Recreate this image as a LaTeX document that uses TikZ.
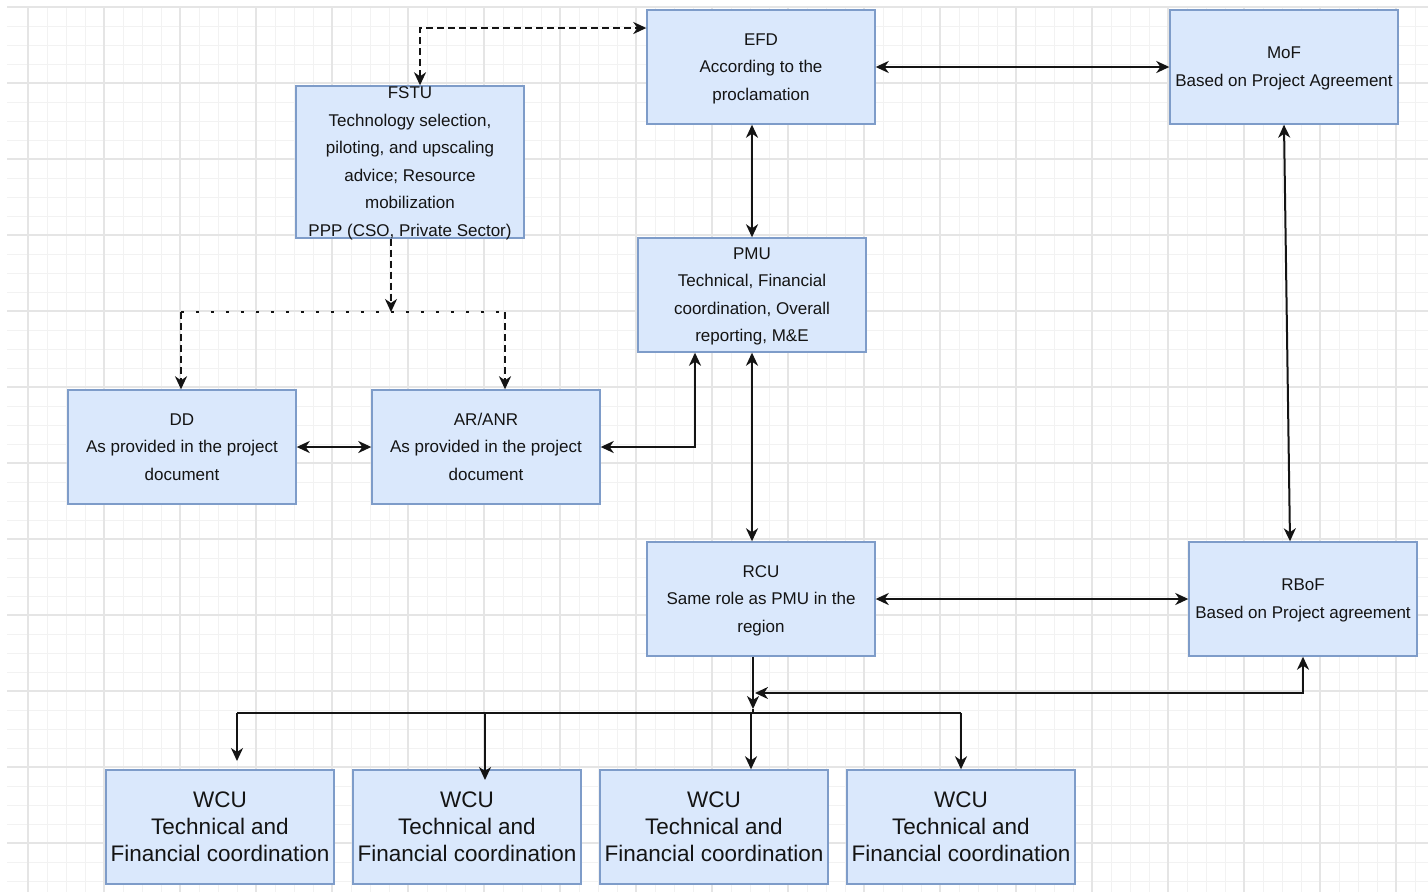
\documentclass[tikz,border=0pt]{standalone}
\usepackage{fontspec}
\setmainfont{Liberation Sans}
\usetikzlibrary{arrows.meta,calc}
\definecolor{boxfill}{HTML}{DAE8FC}
\definecolor{boxline}{HTML}{7E9CC9}
\definecolor{gridminor}{HTML}{F2F2F2}
\definecolor{gridmajor}{HTML}{E5E5E5}
\definecolor{ink}{HTML}{141414}
\newcommand\stk[1]{\begin{tabular}{@{}c@{}}#1\end{tabular}}
\newcommand\tstk[1]{\raisebox{0pt}[\dimexpr\height-9pt\relax][\dimexpr\depth-9pt\relax]{\begin{tabular}{@{}c@{}}#1\end{tabular}}}
\newcommand\wstk[1]{\raisebox{-2.5pt}[\height][\depth]{\begin{tabular}{@{}c@{}}#1\end{tabular}}}
\tikzset{
  box/.style={draw=boxline, fill=boxfill, line width=1.4pt, minimum width=228pt,
    minimum height=114pt, align=center, inner sep=0pt, text=ink,
    font=\fontsize{17}{27.5}\selectfont},
  wcubox/.style={box, font=\fontsize{22.5}{27}\selectfont},
  tip/.tip={Stealth[length=13pt,width=12pt,inset=4pt]},
  conn/.style={draw=ink, line width=2pt, arrows={tip-tip}},
  conn1/.style={draw=ink, line width=2pt, arrows={-tip}},
  plain/.style={draw=ink, line width=2pt},
  dsh/.style={draw=ink, line width=2pt, dash pattern=on 7pt off 4pt},
  dots/.style={draw=ink, line width=2.8pt, dash pattern=on 3pt off 12pt},
}
\begin{document}
\begin{tikzpicture}[x=1pt,y=-1pt]
\useasboundingbox (0,0) rectangle (1428,892);
\fill[white] (0,0) rectangle (1428,892);
% grid
\foreach \x in {28,47,...,1428} \draw[gridminor, line width=1pt] (\x,7) -- (\x,892);
\foreach \y in {7,26,...,892} \draw[gridminor, line width=1pt] (7,\y) -- (1428,\y);
\foreach \x in {28,104,...,1428} \draw[gridmajor, line width=1.1pt] (\x,7) -- (\x,892);
\foreach \y in {7,83,...,892} \draw[gridmajor, line width=1.1pt] (7,\y) -- (1428,\y);

% nodes
\node[box] (efd) at (761,67) {\stk{EFD\\According to the\\proclamation}};
\node[box] (mof) at (1284,67) {\stk{MoF\\Based on Project Agreement}};
\node[box, minimum height=152pt] (fstu) at (410,162) {\tstk{FSTU\\Technology selection,\\piloting, and upscaling\\advice; Resource\\mobilization\\PPP (CSO, Private Sector)}};
\node[box] (pmu) at (752,295) {\stk{PMU\\Technical, Financial\\coordination, Overall\\reporting, M\&E}};
\node[box] (dd) at (182,447) {\stk{DD\\As provided in the project\\document}};
\node[box] (ar) at (486,447) {\stk{AR/ANR\\As provided in the project\\document}};
\node[box] (rcu) at (761,599) {\stk{RCU\\Same role as PMU in the\\region}};
\node[box] (rbof) at (1303,599) {\stk{RBoF\\Based on Project agreement}};
\node[wcubox] (w1) at (220,827) {\wstk{WCU\\Technical and\\Financial coordination}};
\node[wcubox] (w2) at (467,827) {\wstk{WCU\\Technical and\\Financial coordination}};
\node[wcubox] (w3) at (714,827) {\wstk{WCU\\Technical and\\Financial coordination}};
\node[wcubox] (w4) at (961,827) {\wstk{WCU\\Technical and\\Financial coordination}};

% coordinates
\coordinate (split) at (391,312);
\coordinate (sl) at (181,312);
\coordinate (sr) at (505,312);
\coordinate (jn) at (753,709);
\coordinate (jl) at (755,693);
\coordinate (bl) at (237,713);
\coordinate (b2) at (485,713);
\coordinate (b3) at (751,713);
\coordinate (br) at (961,713);

% connectors
\draw[dsh, arrows={tip-tip}] (420,0 |- fstu.north) |- (efd.west |- 0,28);
\draw[conn] (efd.east) -- (mof.west);
\draw[conn] (752,0 |- efd.south) -- (752,0 |- pmu.north);
\draw[conn] (1284,0 |- mof.south) -- (1290,0 |- rbof.north);
\draw[dsh, arrows={-tip}] (391,0 |- fstu.south) -- (split);
\draw[dots] (sl) -- (sr);
\draw[dsh, arrows={-tip}] (sl) -- (181,0 |- dd.north);
\draw[dsh, arrows={-tip}] (sr) -- (505,0 |- ar.north);
\draw[conn] (dd.east) -- (ar.west);
\draw[conn] (ar.east) -| (695,0 |- pmu.south);
\draw[conn] (752,0 |- pmu.south) -- (752,0 |- rcu.north);
\draw[conn] (rcu.east) -- (rbof.west);
\draw[conn1] (753,0 |- rcu.south) -- (jn);
\draw[conn] (rbof.south) |- (jl);
\draw[plain] (jn) -- (753,713);
\draw[plain] (bl) -- (br);
\draw[conn1] (bl) -- (237,761);
\draw[conn1] (b2) -- (485,780);
\draw[conn1] (b3) -- (751,0 |- w3.north);
\draw[conn1] (br) -- (961,0 |- w4.north);
\end{tikzpicture}
\end{document}
